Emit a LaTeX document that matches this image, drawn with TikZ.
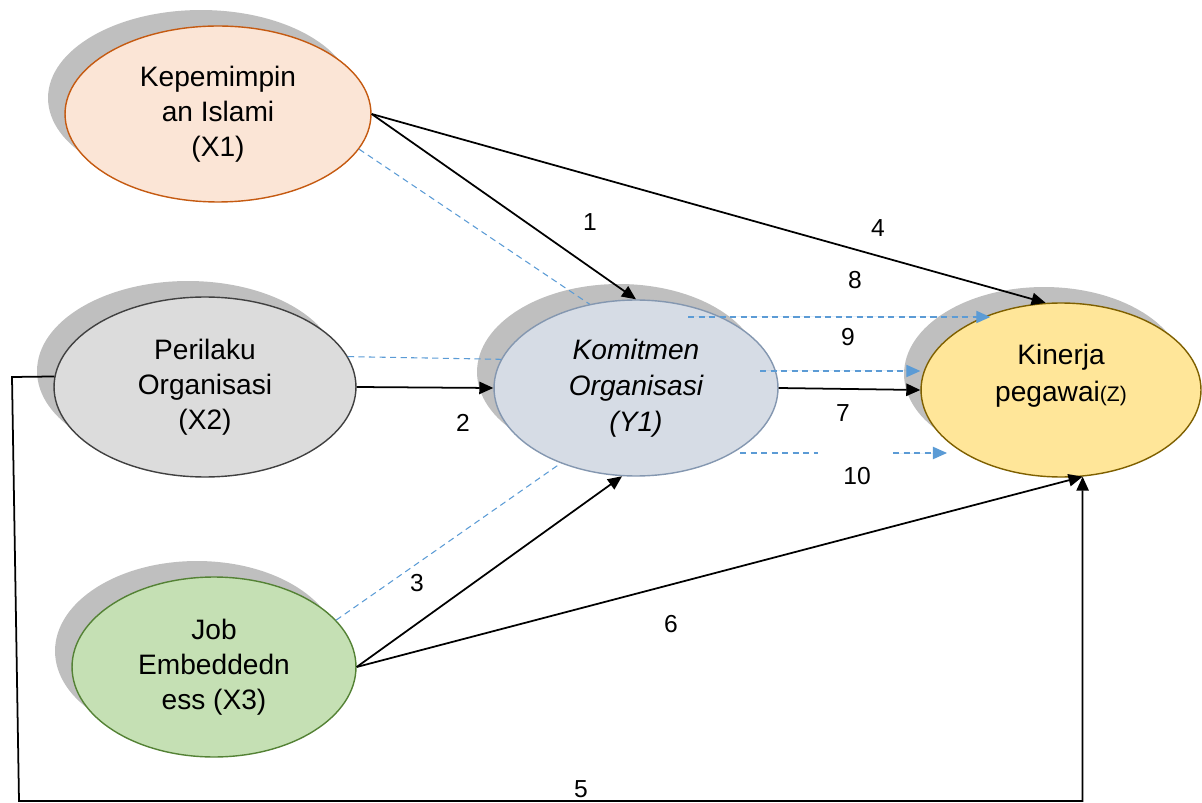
\documentclass[tikz,border=0pt]{standalone}
\usepackage{fontspec}
\setmainfont{Liberation Sans}
\usetikzlibrary{arrows.meta,shapes.geometric,shadows}
\definecolor{ink}{HTML}{000000}
\definecolor{shade}{HTML}{BFBFBF}
\definecolor{orange}{HTML}{C55A11}
\definecolor{orangefill}{HTML}{FBE5D6}
\definecolor{gray}{HTML}{404040}
\definecolor{grayfill}{HTML}{DCDCDC}
\definecolor{green}{HTML}{548235}
\definecolor{greenfill}{HTML}{C5E0B4}
\definecolor{steel}{HTML}{8497B0}
\definecolor{steelfill}{HTML}{D6DCE5}
\definecolor{gold}{HTML}{7F6000}
\definecolor{goldfill}{HTML}{FFE699}
\definecolor{dashblue}{HTML}{5B9BD5}
\tikzset{
  every node/.style={font=\fontsize{16}{19.8}\selectfont, text=ink},
  var/.style={ellipse, draw, line width=0.8pt, align=center, inner sep=0pt,
    general shadow={fill=shade, shadow xshift=-0.34cm, shadow yshift=0.32cm}},
  orangevar/.style={var, fill=orangefill, draw=orange},
  grayvar/.style={var, fill=grayfill, draw=gray},
  greenvar/.style={var, fill=greenfill, draw=green},
  steelvar/.style={var, fill=steelfill, draw=steel, font=\fontsize{16}{20.5}\selectfont\itshape},
  goldvar/.style={var, fill=goldfill, draw=gold},
  lbl/.style={align=center, font=\fontsize{16}{21}\selectfont},
  num/.style={font=\fontsize{14}{16}\selectfont},
  arrow/.style={-{Triangle[length=8pt,width=7pt]}, line width=1pt, draw=ink},
  line/.style={line width=1pt, draw=ink},
  dashline/.style={line width=0.6pt, dash pattern=on 3.5pt off 2.5pt, draw=dashblue},
  dasharrow/.style={dashline, -{Triangle[length=8pt,width=7pt]}, fill=dashblue},
}
\begin{document}
\begin{tikzpicture}[x=0.02cm, y=-0.02cm]
\useasboundingbox (0,0) rectangle (1202,803);
\node[orangevar, minimum width=6.12cm, minimum height=3.52cm] (x1) at (218,114) {Kepemimpin\\an Islami\\(X1)};
\node[grayvar, minimum width=6.04cm, minimum height=3.6cm] (x2) at (205,387) {Perilaku\\Organisasi\\(X2)};
\node[greenvar, minimum width=5.68cm, minimum height=3.6cm] (x3) at (214,667) {Job\\Embeddedn\\ess (X3)};
\node[steelvar, minimum width=5.68cm, minimum height=3.52cm] (y1) at (636,388) {Komitmen\\Organisasi\\(Y1)};
\node[goldvar, minimum width=5.6cm, minimum height=3.48cm] (z) at (1061,390) {};
\node[lbl] (zt) at ([yshift=8pt]z.center) {Kinerja\\pegawai{\fontsize{12}{14}\selectfont(Z)}};
\coordinate (c5a) at (12,377); \coordinate (c5b) at (19,801);
\coordinate (d4s) at (688,317); \coordinate (d5s) at (760,371);
\coordinate (d6s) at (740,453); \coordinate (d6a) at (818,453); \coordinate (d6b) at (893,453); \coordinate (d6e) at (947,453);
\draw[dashline](x1.-14)--(y1.119); \draw[dashline](x2.12)--(y1.168); \draw[dashline](x3.21)--(y1.225);
\draw[dasharrow](d4s)--(d4s -| z.133); \draw[dasharrow](d5s)--(d5s -| z.west);
\draw[dashline](d6s)--(d6a); \draw[dasharrow](d6b)--(d6e);
\draw[arrow](x1.east)--(y1.north); \draw[arrow](x1.east)--(z.100);
\draw[arrow](x2.east)--(y1.west); \draw[arrow](y1.east)--(z.west);
\draw[arrow](x3.east)--(y1.261); \draw[arrow](x3.east)--(z.284);
\draw[arrow](x2.176)--(c5a)--(c5b)-|(z.284);
\node[num] (n1) at (590,222) {1};
\node[num] (n2) at (463,423) {2};
\node[num] (n3) at (417,583) {3};
\node[num] (n4) at (878,228) {4};
\node[num] (n5) at (581,789) {5};
\node[num] (n6) at (671,624) {6};
\node[num] (n7) at (843,413) {7};
\node[num] (n8) at (855,280) {8};
\node[num] (n9) at (848,337) {9};
\node[num] (n10) at (857,476) {10};
\end{tikzpicture}
\end{document}
